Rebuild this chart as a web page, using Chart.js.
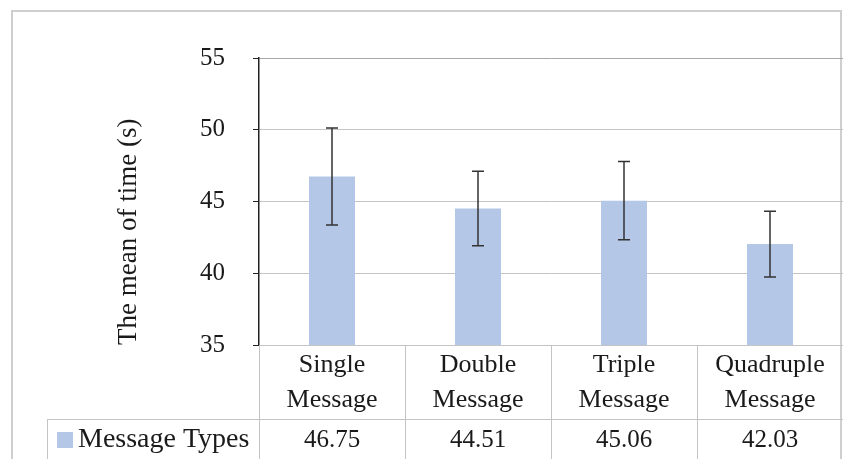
<!DOCTYPE html>
<html>
<head>
<meta charset="utf-8">
<script src="https://cdn.jsdelivr.net/npm/chart.js@4/dist/chart.umd.min.js"></script>
<style>
html,body{margin:0;padding:0;background:#fff;}
#wrap{width:843px;height:459px;}
</style>
</head>
<body>
<div id="wrap"><canvas id="c" width="843" height="459"></canvas></div>
<script>
const categories = [["Single","Message"],["Double","Message"],["Triple","Message"],["Quadruple","Message"]];
const meanValues = [46.75, 44.51, 45.06, 42.03];
const errorValues = [3.38, 2.60, 2.72, 2.29];
const valueLabels = ["46.75","44.51","45.06","42.03"];
const seriesName = "Message Types";
const yTicks = [35, 40, 45, 50, 55];

const barColor = '#b4c7e7';
const lineGray = '#c4c4c4';
const serif = '"Liberation Serif", "Times New Roman", serif';

const framePlugin = {
  id: 'frame',
  beforeDraw(chart) {
    const ctx = chart.ctx;
    ctx.save();
    ctx.fillStyle = '#fff';
    ctx.fillRect(0, 0, chart.width, chart.height);
    ctx.strokeStyle = '#cfcfcf';
    ctx.lineWidth = 2;
    ctx.strokeRect(12, 11, 829, 470);
    ctx.restore();
  }
};

const errorBarPlugin = {
  id: 'errorBars',
  afterDatasetsDraw(chart) {
    const ctx = chart.ctx;
    const x = chart.scales.x, y = chart.scales.y;
    ctx.save();
    ctx.strokeStyle = '#333';
    ctx.lineWidth = 1.5;
    meanValues.forEach((v, i) => {
      const px = x.getPixelForValue(i);
      const top = y.getPixelForValue(v + errorValues[i]);
      const bot = y.getPixelForValue(v - errorValues[i]);
      ctx.beginPath();
      ctx.moveTo(px, top); ctx.lineTo(px, bot);
      ctx.moveTo(px - 6, top); ctx.lineTo(px + 6, top);
      ctx.moveTo(px - 6, bot); ctx.lineTo(px + 6, bot);
      ctx.stroke();
    });
    ctx.restore();
  }
};

const tablePlugin = {
  id: 'dataTable',
  afterDraw(chart) {
    const ctx = chart.ctx;
    const x = chart.scales.x;
    const area = chart.chartArea;
    const n = categories.length;
    const step = (area.right - area.left) / n;
    const rowTop = area.bottom;
    const rowMid = area.bottom + 74;
    const bottom = chart.height;
    ctx.save();
    ctx.strokeStyle = lineGray;
    ctx.lineWidth = 1;
    ctx.beginPath();
    for (let i = 0; i <= n; i++) {
      const bx = Math.round(area.left + i * step) + 0.5;
      ctx.moveTo(bx, rowTop); ctx.lineTo(bx, bottom);
    }
    ctx.moveTo(47.5, rowMid + 0.5); ctx.lineTo(area.right, rowMid + 0.5);
    ctx.moveTo(47.5, rowMid); ctx.lineTo(47.5, bottom);
    ctx.stroke();

    ctx.fillStyle = '#1a1a1a';
    ctx.textAlign = 'center';
    ctx.textBaseline = 'middle';
    ctx.font = '26px ' + serif;
    categories.forEach((lines, i) => {
      const cx = x.getPixelForValue(i);
      ctx.fillText(lines[0], cx, rowTop + 20);
      ctx.fillText(lines[1], cx, rowTop + 55);
    });
    ctx.font = '25px ' + serif;
    valueLabels.forEach((t, i) => {
      const cx = x.getPixelForValue(i);
      ctx.fillText(t, cx, rowMid + 21);
    });
    ctx.fillStyle = barColor;
    ctx.fillRect(57, rowMid + 13, 16, 16);
    ctx.fillStyle = '#1a1a1a';
    ctx.textAlign = 'left';
    ctx.font = '28px ' + serif;
    ctx.fillText(seriesName, 78, rowMid + 21);
    ctx.restore();
  }
};

new Chart(document.getElementById('c'), {
  type: 'bar',
  data: {
    labels: categories.map(c => c.join(' ')),
    datasets: [{
      label: seriesName,
      data: meanValues,
      backgroundColor: barColor,
      borderWidth: 0,
      categoryPercentage: 1,
      barPercentage: 0.315
    }]
  },
  options: {
    responsive: false,
    devicePixelRatio: 1,
    animation: false,
    layout: { padding: { left: 0, right: 0, top: 58, bottom: 0 } },
    plugins: { legend: { display: false }, tooltip: { enabled: false } },
    scales: {
      x: {
        ticks: { display: false },
        grid: { display: false },
        border: { color: lineGray, width: 1 },
        afterFit(s) { s.height = 114; }
      },
      y: {
        min: 35, max: 55,
        afterBuildTicks(s) { s.ticks = yTicks.map(v => ({ value: v })); },
        ticks: {
          padding: 28,
          color: '#1a1a1a',
          font: { family: serif, size: 25 }
        },
        grid: {
          color: ctx => (ctx.tick && ctx.tick.value === 55) ? '#a8a8a8' : lineGray,
          tickColor: '#222',
          tickLength: 6,
          lineWidth: 1
        },
        border: { color: '#222', width: 1.5 },
        title: {
          display: true,
          text: 'The mean of time (s)',
          align: 'start',
          color: '#1a1a1a',
          font: { family: serif, size: 27 },
          padding: { top: 113, bottom: 0 }
        },
        afterFit(s) { s.width = 259; }
      }
    }
  },
  plugins: [framePlugin, errorBarPlugin, tablePlugin]
});
</script>
</body>
</html>
